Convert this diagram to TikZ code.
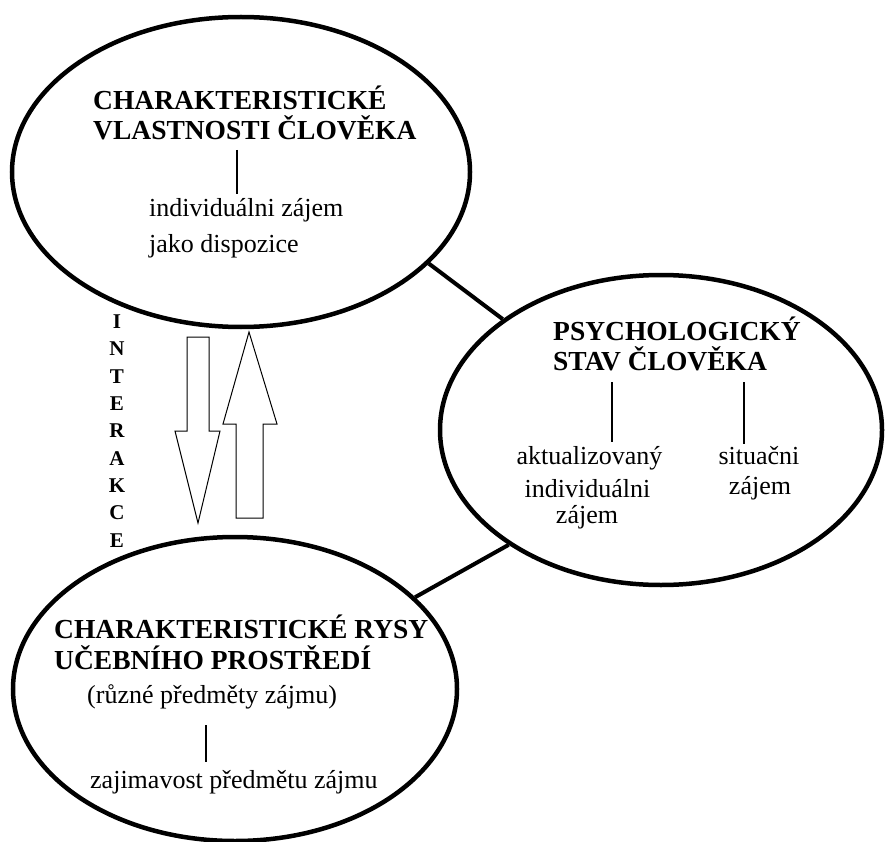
\documentclass[tikz,border=0pt]{standalone}
\usepackage{fontspec}
\setmainfont{Liberation Serif}
\usetikzlibrary{shapes.geometric}
\begin{document}
\begin{tikzpicture}[x=1pt,y=-1pt,
  oval/.style={draw, ellipse, line width=4.5pt, inner sep=0pt},
  link/.style={line width=4pt},
  tick/.style={line width=1.3pt},
  hollow/.style={draw, line width=1pt, line join=miter},
  head/.style={font=\fontsize{27.5}{30}\selectfont\bfseries, inner sep=0pt, anchor=base west},
  body/.style={font=\fontsize{26}{30}\selectfont, inner sep=0pt, anchor=base west},
  bodyc/.style={font=\fontsize{26}{30}\selectfont, inner sep=0pt, anchor=base},
]
\useasboundingbox (0,0) rectangle (885,842);
% ellipses
\node[oval, minimum width=458pt, minimum height=310pt] (e1) at (241,172) {};
\node[oval, minimum width=442pt, minimum height=310pt] (e2) at (661,430) {};
\node[oval, minimum width=444pt, minimum height=304pt] (e3) at (235,689) {};
% links
\draw[link] (e1.-26.4) -- (e2.145.2);
\draw[link] (e2.217.3) -- (e3.27.75);
% ellipse 1 text
\node[head] (h1a) at (93,110) {CHARAKTERISTICKÉ};
\node[head] (h1b) at (93,140) {VLASTNOSTI ČLOVĚKA};
\coordinate (t1a) at (237,150);
\coordinate (t1b) at (237,194);
\draw[tick] (t1a) -- (t1b);
\node[body] (s1a) at (149,217) {individuálni zájem};
\node[body] (s1b) at (149,252) {jako dispozice};
% ellipse 2 text
\node[head] (h2a) at (553,340) {PSYCHOLOGICKÝ};
\node[head] (h2b) at (553,370) {STAV ČLOVĚKA};
\coordinate (t2a) at (612,382);
\coordinate (t2b) at (612,442);
\coordinate (t3a) at (744,382);
\coordinate (t3b) at (744,444);
\draw[tick] (t2a) -- (t2b);
\draw[tick] (t3a) -- (t3b);
\node[bodyc] (s2a) at (589.5,464) {aktualizovaný};
\node[bodyc] (s2b) at (587.5,497) {individuálni};
\node[bodyc] (s2c) at (587,523) {zájem};
\node[bodyc] (s3a) at (759,464) {situačni};
\node[bodyc] (s3b) at (760,494) {zájem};
% ellipse 3 text
\node[head] (h3a) at (54,638) {CHARAKTERISTICKÉ RYSY};
\node[head] (h3b) at (54,669) {UČEBNÍHO PROSTŘEDÍ};
\node[body] (s4a) at (87,703) {(různé předměty zájmu)};
\coordinate (t4a) at (206,725);
\coordinate (t4b) at (206,762);
\draw[tick] (t4a) -- (t4b);
\node[body] (s4b) at (90,788) {zajimavost předmětu zájmu};
% interaction
\node[font=\fontsize{21}{27.3}\selectfont\bfseries, align=center, inner sep=0pt] (inter) at (117,431) {I\\N\\T\\E\\R\\A\\K\\C\\E};
\draw[hollow] (187,337) -- (209,337) -- (209,431) -- (220,431) -- (198,523) -- (175,431) -- (187,431) -- cycle;
\draw[hollow] (249,332) -- (277,424) -- (263,424) -- (263,518) -- (236,518) -- (236,424) -- (223,424) -- cycle;
\end{tikzpicture}
\end{document}
